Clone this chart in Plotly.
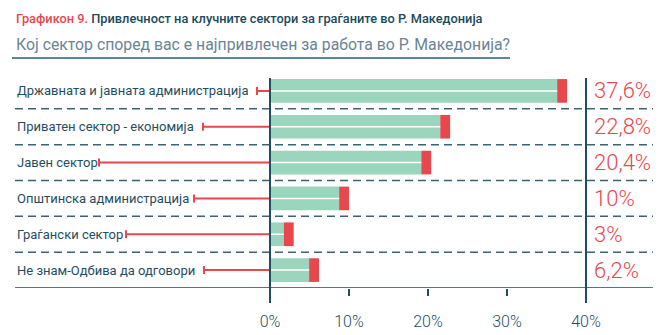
import plotly.graph_objects as go

# ---- data ----
categories = [
    "Државната и јавната администрација",
    "Приватен сектор - економија",
    "Јавен сектор",
    "Општинска администрација",
    "Граѓански сектор",
    "Не знам-Одбива да одговори",
]
values = [37.6, 22.8, 20.4, 10, 3, 6.2]
tick_vals = [0, 10, 20, 30, 40]
tick_text = ["0%", "10%", "20%", "30%", "40%"]
title_red = "Графикон 9."
title_rest = " Привлечност на клучните сектори за граѓаните во Р. Македонија"
subtitle = "Кој сектор според вас е најпривлечен за работа во Р. Македонија?"

# ---- layout / style constants ----
W, H = 669, 335
PX_PER_UNIT = 7.9          # pixels per percentage point
ZERO_PX = 270              # pixel x of 0%
PLOT_TOP, PLOT_BOTTOM = 73, 288
CAP = 1.25                 # red end-cap width, in axis units
leader_start_px = [257, 203, 99, 194, 126, 204]  # where the red leaders start

GREEN = "#9bd5bd"
RED = "#e8474d"
TEAL = "#1f4e5f"
FONT = "Roboto"

x_min = -ZERO_PX / PX_PER_UNIT
x_max = (W - ZERO_PX) / PX_PER_UNIT
n = len(categories)
ypos = list(range(n))

def py(pix):
    """pixel y -> paper y"""
    return (PLOT_BOTTOM - pix) / (PLOT_BOTTOM - PLOT_TOP)

def px(pix):
    return pix / W

green_len = [v - CAP for v in values]
leader_len = [(ZERO_PX - p) / PX_PER_UNIT for p in leader_start_px]

fig = go.Figure()
fig.add_trace(go.Bar(
    y=ypos, x=green_len, base=0, orientation="h", width=0.66,
    marker=dict(color=GREEN, line=dict(width=0)), hoverinfo="skip",
))
fig.add_trace(go.Bar(
    y=ypos, x=[CAP] * n, base=green_len, orientation="h", width=0.66,
    marker=dict(color=RED, line=dict(width=0)), hoverinfo="skip",
))
# white centre line in the green bars
lx, ly = [], []
for g, yy in zip(green_len, ypos):
    lx += [0, g, None]
    ly += [yy, yy, None]
fig.add_trace(go.Scatter(x=lx, y=ly, mode="lines",
                         line=dict(color="white", width=1.5), hoverinfo="skip"))
# red leaders from labels to axis (error bars)
fig.add_trace(go.Scatter(
    x=[0] * n, y=ypos, mode="markers", marker=dict(size=0.1, color="rgba(0,0,0,0)"),
    error_x=dict(type="data", symmetric=False, array=[0] * n, arrayminus=leader_len,
                 color=RED, thickness=2, width=4),
    hoverinfo="skip",
))

shapes = []
# dashed separators
for i in range(n - 1):
    shapes.append(dict(type="line", xref="paper", yref="y",
                       x0=px(15), x1=px(653), y0=i + 0.5, y1=i + 0.5,
                       line=dict(color="#3a6475", width=1.5, dash="8px,5px"), layer="below"))
# bottom solid line
shapes.append(dict(type="line", xref="paper", yref="y",
                   x0=px(15), x1=px(653), y0=n - 0.5, y1=n - 0.5,
                   line=dict(color="#4f7888", width=2), layer="above"))
# vertical lines at 0 and 40
for xv in (0, 40):
    shapes.append(dict(type="line", xref="x", yref="paper",
                       x0=xv, x1=xv, y0=py(78), y1=py(303),
                       line=dict(color=TEAL, width=2), layer="above"))
# subtitle underline
shapes.append(dict(type="line", xref="paper", yref="paper",
                   x0=px(12), x1=px(510), y0=py(58), y1=py(58),
                   line=dict(color="#5b8797", width=2)))

annotations = []
for c, yy in zip(categories, ypos):
    annotations.append(dict(xref="paper", yref="y", x=px(15), y=yy, text=c,
                            xanchor="left", yanchor="middle", showarrow=False,
                            font=dict(family=FONT, size=13, color=TEAL)))
for v, yy in zip(values, ypos):
    annotations.append(dict(xref="x", yref="y", x=40, y=yy, xshift=6,
                            text=(f"{v:g}".replace(".", ",") + "%"),
                            xanchor="left", yanchor="middle", showarrow=False,
                            font=dict(family=FONT, size=22, color=RED, weight=300)))
annotations.append(dict(xref="paper", yref="paper", x=px(14), y=py(18),
                        text=f"<span style='color:{RED}'>{title_red}</span>"
                             f"<span style='color:#1b4a5b'>{title_rest}</span>",
                        xanchor="left", yanchor="middle", showarrow=False,
                        font=dict(family=FONT, size=12.8, weight=500)))
annotations.append(dict(xref="paper", yref="paper", x=px(14), y=py(45),
                        text=subtitle, xanchor="left", yanchor="middle", showarrow=False,
                        font=dict(family=FONT, size=15.8, color="#6b8493")))

fig.update_layout(
    width=W, height=H,
    margin=dict(l=0, r=0, t=PLOT_TOP, b=H - PLOT_BOTTOM, pad=0),
    paper_bgcolor="white", plot_bgcolor="white",
    showlegend=False, barmode="overlay",
    xaxis=dict(range=[x_min, x_max], tickvals=tick_vals, ticktext=tick_text,
               showgrid=False, zeroline=False, showline=False,
               ticks="outside", ticklen=7, tickwidth=1.5, tickcolor=TEAL,
               ticklabelstandoff=12,
               tickfont=dict(family=FONT, size=16, color=TEAL, weight=300)),
    yaxis=dict(range=[n - 0.5, -0.5], showgrid=False, zeroline=False,
               showline=False, showticklabels=False, ticks=""),
    shapes=shapes, annotations=annotations,
)

fig.write_html("out.html")
